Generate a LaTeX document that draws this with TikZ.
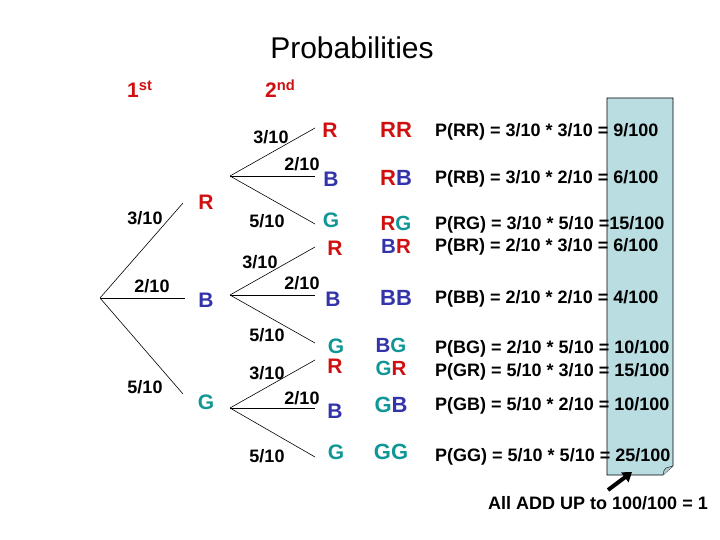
\documentclass[tikz,border=0pt]{standalone}
\usepackage{fontspec}
\setmainfont{Liberation Sans}
\usetikzlibrary{arrows.meta}
\definecolor{cred}{RGB}{208,16,16}
\definecolor{cblue}{RGB}{51,51,170}
\definecolor{cteal}{RGB}{17,150,150}
\definecolor{boxfill}{RGB}{186,221,226}
\tikzset{
  frac/.style={inner sep=0pt,text height=12.9pt,text depth=0pt,font=\fontsize{18}{20}\selectfont\bfseries},
  letter/.style={inner sep=0pt,text height=15pt,text depth=0pt,font=\fontsize{21}{23}\selectfont\bfseries},
  pair/.style={inner sep=0pt,text height=15.75pt,text depth=0pt,font=\fontsize{22}{24}\selectfont\bfseries},
  spair/.style={inner sep=0pt,text height=14.6pt,text depth=0pt,font=\fontsize{20.5}{22}\selectfont\bfseries},
  prob/.style={inner sep=0pt,text height=12.9pt,text depth=0pt,anchor=west,font=\fontsize{18}{20}\selectfont\bfseries},
  branch/.style={draw=black,line width=0.6pt},
}
\newcommand{\Rr}{{\color{cred}R}}
\newcommand{\Bb}{{\color{cblue}B}}
\newcommand{\Gg}{{\color{cteal}G}}
\begin{document}
\begin{tikzpicture}[x=1pt,y=-1pt]
\useasboundingbox (0,0) rectangle (720,540);
% title
\node[inner sep=0pt,text height=21.5pt,text depth=0pt,font=\fontsize{30}{32}\selectfont] (title) at (352,48) {Probabilities};
\node[anchor=base west,inner sep=0pt,text=cred,font=\fontsize{21}{23}\selectfont\bfseries] (first) at (127,98) {1\textsuperscript{st}};
\node[anchor=base west,inner sep=0pt,text=cred,font=\fontsize{21}{23}\selectfont\bfseries] (second) at (265,98) {2\textsuperscript{nd}};
% shaded box
\draw[fill=boxfill,draw=black,line width=0.6pt] (607,98) -- (673,98) -- (673,466) -- (663,475) -- (607,475) -- cycle;
\draw[fill=boxfill!80!gray,draw=black,line width=0.4pt] (663,475) .. controls (664,470) .. (666,468) -- (673,466);
% first level
\coordinate (root) at (100,298);
\coordinate (eR) at (183,203);
\coordinate (eB) at (185,298);
\coordinate (eG) at (183,394);
\draw[branch] (root) -- (eR);
\draw[branch] (root) -- (eB);
\draw[branch] (root) -- (eG);
\node[frac] (f1R) at (145,218) {3/10};
\node[frac] (f1B) at (152,286) {2/10};
\node[frac] (f1G) at (145,387) {5/10};
\node[letter,text=cred] (R1) at (206,202) {R};
\node[letter,text=cblue] (B1) at (206,300) {B};
\node[letter,text=cteal] (G1) at (206,402) {G};
% second level from R
\coordinate (oR) at (230,176);
\coordinate (oRR) at (315,128);
\coordinate (oRB) at (315,176);
\coordinate (oRG) at (315,224);
\draw[branch] (oR) -- (oRR);
\draw[branch] (oR) -- (oRB);
\draw[branch] (oR) -- (oRG);
\node[frac] (fRR) at (271,137) {3/10};
\node[frac] (fRB) at (302,164) {2/10};
\node[frac] (fRG) at (267,221) {5/10};
\node[letter,text=cred] (LRR) at (330,130) {R};
\node[letter,text=cblue] (LRB) at (331,179) {B};
\node[letter,text=cteal] (LRG) at (331,220) {G};
% second level from B
\coordinate (oB) at (230,295);
\coordinate (oBR) at (315,247);
\coordinate (oBB) at (315,295);
\coordinate (oBG) at (315,343);
\draw[branch] (oB) -- (oBR);
\draw[branch] (oB) -- (oBB);
\draw[branch] (oB) -- (oBG);
\node[frac] (fBR) at (260,262) {3/10};
\node[frac] (fBB) at (302,283) {2/10};
\node[frac] (fBG) at (267,335) {5/10};
\node[letter,text=cred] (LBR) at (335,248) {R};
\node[letter,text=cblue] (LBB) at (333,299) {B};
\node[letter,text=cteal] (LBG) at (336,346) {G};
% second level from G
\coordinate (oG) at (230,408);
\coordinate (oGR) at (315,360);
\coordinate (oGB) at (315,408);
\coordinate (oGG) at (315,457);
\draw[branch] (oG) -- (oGR);
\draw[branch] (oG) -- (oGB);
\draw[branch] (oG) -- (oGG);
\node[frac] (fGR) at (267,373) {3/10};
\node[frac] (fGB) at (302,398) {2/10};
\node[frac] (fGG) at (267,456) {5/10};
\node[letter,text=cred] (LGR) at (335,366) {R};
\node[letter,text=cblue] (LGB) at (335,411) {B};
\node[letter,text=cteal] (LGG) at (336,452) {G};
% outcomes
\node[pair] (oc1) at (396,130) {\Rr\Rr};
\node[pair] (oc2) at (396,178) {\Rr\Bb};
\node[spair] (oc3) at (396,223) {\Rr\Gg};
\node[spair] (oc4) at (396,246) {\Bb\Rr};
\node[pair] (oc5) at (396,298) {\Bb\Bb};
\node[spair] (oc6) at (391,345) {\Bb\Gg};
\node[spair] (oc7) at (391,368) {\Gg\Rr};
\node[pair] (oc8) at (391,405) {\Gg\Bb};
\node[pair] (oc9) at (391,452) {\Gg\Gg};
% probabilities
\node[prob] (p1) at (435,130) {P(RR) = 3/10 * 3/10 = 9/100};
\node[prob] (p2) at (435,177) {P(RB) = 3/10 * 2/10 = 6/100};
\node[prob] (p3) at (435,223) {P(RG) = 3/10 * 5/10 =15/100};
\node[prob] (p4) at (435,245) {P(BR) = 2/10 * 3/10 = 6/100};
\node[prob] (p5) at (435,297) {P(BB) = 2/10 * 2/10 = 4/100};
\node[prob] (p6) at (435,347) {P(BG) = 2/10 * 5/10 = 10/100};
\node[prob] (p7) at (435,370) {P(GR) = 5/10 * 3/10 = 15/100};
\node[prob] (p8) at (435,404) {P(GB) = 5/10 * 2/10 = 10/100};
\node[prob] (p9) at (435,455) {P(GG) = 5/10 * 5/10 = 25/100};
% note and arrow
\node[inner sep=0pt,text height=12.9pt,text depth=0pt,font=\fontsize{18}{20}\selectfont\bfseries] (note) at (598,503) {All ADD UP to 100/100 = 1};
\coordinate (atail) at (608,490);
\coordinate (ahead) at (632,472);
\draw[line width=4pt,-{Triangle[length=9pt,width=12pt]}] (atail) -- (ahead);
\end{tikzpicture}
\end{document}
